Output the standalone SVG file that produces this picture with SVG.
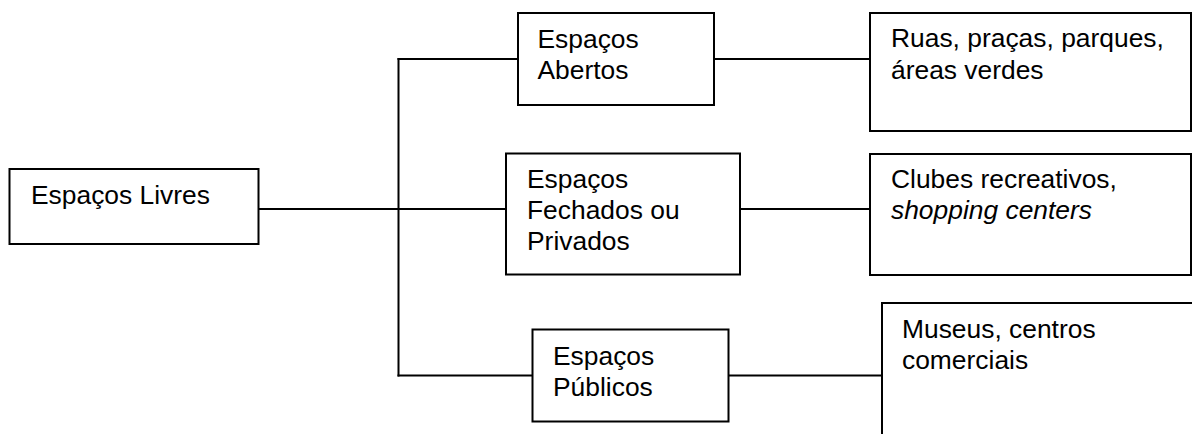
<svg xmlns="http://www.w3.org/2000/svg" width="1192" height="434" viewBox="0 0 1192 434">
<style>
.box{fill:#fff;stroke:#000;stroke-width:2}
.ln{fill:none;stroke:#000;stroke-width:2}
text{font-family:"Liberation Sans",Arial,sans-serif;font-size:26.4px;fill:#000}
.it{font-style:italic}
</style>
<rect width="1192" height="434" fill="#fff"/>
<g id="connectors">
<line class="ln" x1="258" y1="209" x2="506" y2="209"/>
<line class="ln" x1="398.5" y1="58" x2="398.5" y2="376.5"/>
<line class="ln" x1="397.5" y1="59" x2="518" y2="59"/>
<line class="ln" x1="397.5" y1="375.5" x2="532.5" y2="375.5"/>
<line class="ln" x1="714" y1="59" x2="870" y2="59"/>
<line class="ln" x1="740" y1="209" x2="870" y2="209"/>
<line class="ln" x1="728.5" y1="375.5" x2="882" y2="375.5"/>
</g>
<g id="livres">
<rect class="box" x="9.5" y="169" width="249" height="75"/>
<text x="31" y="204">Espaços Livres</text>
</g>
<g id="abertos">
<rect class="box" x="518" y="13" width="196" height="92"/>
<text x="537.5" y="47.5">Espaços</text>
<text x="537.5" y="79">Abertos</text>
</g>
<g id="fechados">
<rect class="box" x="506" y="153.5" width="234" height="121"/>
<text x="527" y="187.5">Espaços</text>
<text x="527" y="218.5">Fechados ou</text>
<text x="527" y="249.5">Privados</text>
</g>
<g id="publicos">
<rect class="box" x="532.5" y="329.5" width="196" height="92"/>
<text x="553" y="365">Espaços</text>
<text x="553" y="396">Públicos</text>
</g>
<g id="ruas">
<rect class="box" x="870" y="13" width="321" height="118"/>
<text x="891" y="47">Ruas, praças, parques,</text>
<text x="891" y="79">áreas verdes</text>
</g>
<g id="clubes">
<rect class="box" x="870" y="154" width="321" height="121"/>
<text x="891" y="187.5">Clubes recreativos,</text>
<text x="891" y="218.5" class="it">shopping centers</text>
</g>
<g id="museus">
<rect class="box" x="882" y="303" width="400" height="200"/>
<text x="902" y="337.5">Museus, centros</text>
<text x="902" y="368.5">comerciais</text>
</g>
</svg>
